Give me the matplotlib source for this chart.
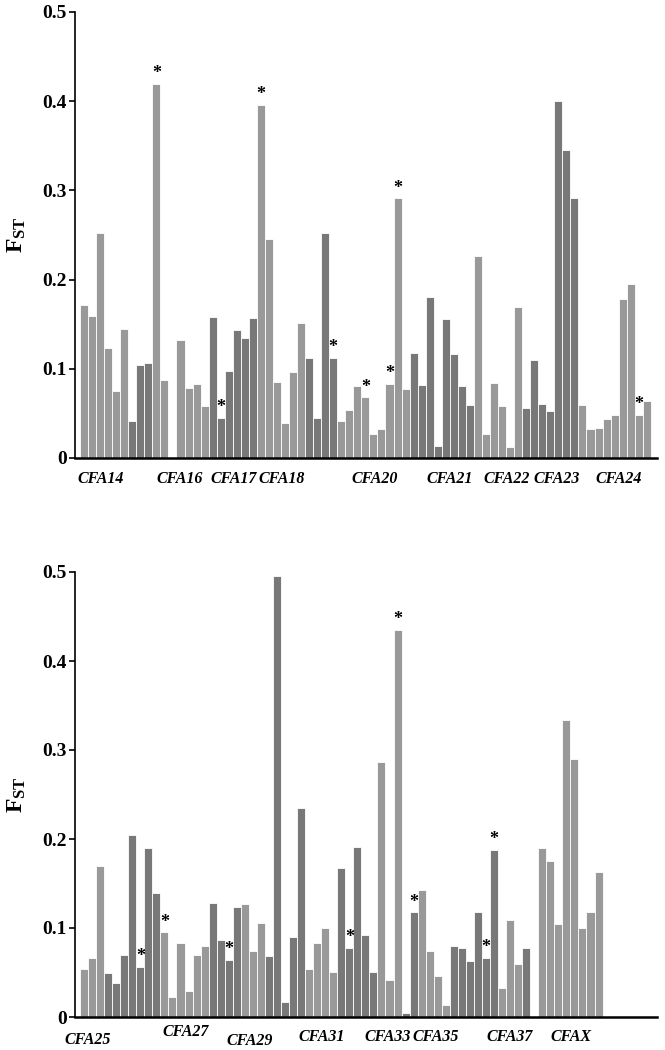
import numpy as np
import matplotlib
matplotlib.use("Agg")
import matplotlib.pyplot as plt
import matplotlib.transforms as mtransforms

plt.rcParams['font.family'] = ['Liberation Serif', 'DejaVu Serif']
plt.rcParams['mathtext.fontset'] = 'custom'
plt.rcParams['mathtext.rm'] = 'Liberation Serif:bold'
plt.rcParams['mathtext.bf'] = 'Liberation Serif:bold'

# top panel: one entry per slot, None = empty slot
top_fst = [0.172, 0.159, 0.252, 0.123, 0.075, 0.145, 0.042, 0.104, 0.107, 0.419,
           0.088, None, 0.132, 0.079, 0.083, 0.058, 0.158, 0.045, 0.097, 0.144,
           0.135, 0.157, 0.396, 0.245, 0.085, 0.039, 0.096, 0.151, 0.112, 0.045,
           0.252, 0.112, 0.042, 0.054, 0.081, 0.068, 0.027, 0.032, 0.083, 0.291,
           0.077, 0.118, 0.082, 0.180, 0.014, 0.156, 0.117, 0.081, 0.059, 0.227,
           0.027, 0.084, 0.058, 0.012, 0.169, 0.056, 0.110, 0.060, 0.053, 0.400,
           0.345, 0.292, 0.059, 0.033, 0.034, 0.044, 0.048, 0.178, 0.195, 0.048,
           0.064]
top_shade = "LLLLLLDDDLL-LLLLDDDDDDLLLLLLDDDDLLLLLLLLLDDDDDDDDLLLLLLDDDDDDDLLLLLLLLL"
top_star = [9, 17, 22, 31, 35, 38, 39, 69]
top_labels = ["CFA14", "CFA16", "CFA17", "CFA18", "CFA20", "CFA21", "CFA22", "CFA23", "CFA24"]
top_label_x = [2.6, 12.4, 19.1, 25.1, 36.6, 46.0, 53.1, 59.3, 67.0]
top_label_y = [-0.048] * 9

bot_fst = [0.054, 0.066, 0.170, 0.049, 0.038, 0.070, 0.205, 0.056, 0.190, 0.139,
           0.095, 0.0225, 0.0835, 0.029, 0.070, 0.080, 0.128, 0.086, 0.064, 0.124,
           0.127, 0.0745, 0.106, 0.0685, 0.496, 0.017, 0.0895, 0.235, 0.054, 0.0835,
           0.100, 0.051, 0.167, 0.078, 0.191, 0.0925, 0.051, 0.287, 0.042, 0.435,
           0.005, 0.1176, 0.143, 0.074, 0.046, 0.0135, 0.080, 0.077, 0.0625, 0.1176,
           0.066, 0.188, 0.033, 0.109, 0.059, 0.077, None, 0.190, 0.175, 0.105,
           0.334, 0.290, 0.100, 0.118, 0.163]
bot_shade = "LLLDDDDDDDLLLLLLDDDDLLLDDDDDLLLLDDDDDLLLDDLLLLDDDDDDLLLD-LLLLLLLL"
bot_star = [7, 10, 18, 33, 39, 41, 50, 51]
bot_labels = ["CFA25", "CFA27", "CFA29", "CFA31", "CFA33", "CFA35", "CFA37", "CFAX"]
bot_label_x = [0.9, 13.1, 21.1, 30.0, 38.3, 44.2, 53.4, 61.1]
bot_label_y = [-0.052, -0.034, -0.054, -0.045, -0.045, -0.045, -0.045, -0.045]

shade_colors = {"L": "#999999", "D": "#787878", "-": "white"}


def draw_panel(ax, vals, shade, stars, labels, label_x, label_y):
    x = np.arange(len(vals)) + 0.5
    h = [0 if v is None else v for v in vals]
    cols = [shade_colors[s] for s in shade]
    ax.bar(x, h, width=1.0, color=cols, edgecolor="white", linewidth=0.6)

    for i in stars:
        ax.text(x[i], h[i] + 0.002, "*", ha="center", va="bottom",
                fontsize=13, fontweight="bold")

    trans = mtransforms.blended_transform_factory(ax.transData, ax.transAxes)
    for lab, lx, ly in zip(labels, label_x, label_y):
        ax.text(lx, ly, lab, transform=trans, ha="center", va="center",
                fontsize=11.5, fontweight="bold", fontstyle="italic")

    ax.set_xlim(-0.62, 71.77)
    ax.set_ylim(0, 0.5)
    ax.set_yticks([0, 0.1, 0.2, 0.3, 0.4, 0.5])
    ax.set_yticklabels(["0", "0.1", "0.2", "0.3", "0.4", "0.5"],
                       fontsize=14, fontweight="bold")
    ax.set_xticks([])
    ax.spines["top"].set_visible(False)
    ax.spines["right"].set_visible(False)
    ax.spines["left"].set_linewidth(1.2)
    ax.spines["bottom"].set_linewidth(1.8)
    ax.tick_params(axis="y", direction="out", length=4, width=1.2, pad=2)
    ax.set_ylabel(r"$\mathbf{F_{ST}}$", fontsize=17, rotation=90)
    ax.yaxis.set_label_coords(-0.08, 0.5)


fig = plt.figure(figsize=(6.65, 10.5), dpi=100)
ax1 = fig.add_axes([75 / 665, 1 - 458 / 1050, 582 / 665, 446 / 1050])
ax2 = fig.add_axes([75 / 665, 1 - 1017 / 1050, 582 / 665, 445 / 1050])

draw_panel(ax1, top_fst, top_shade, top_star, top_labels, top_label_x, top_label_y)
draw_panel(ax2, bot_fst, bot_shade, bot_star, bot_labels, bot_label_x, bot_label_y)

fig.savefig("out.png", dpi=100)
